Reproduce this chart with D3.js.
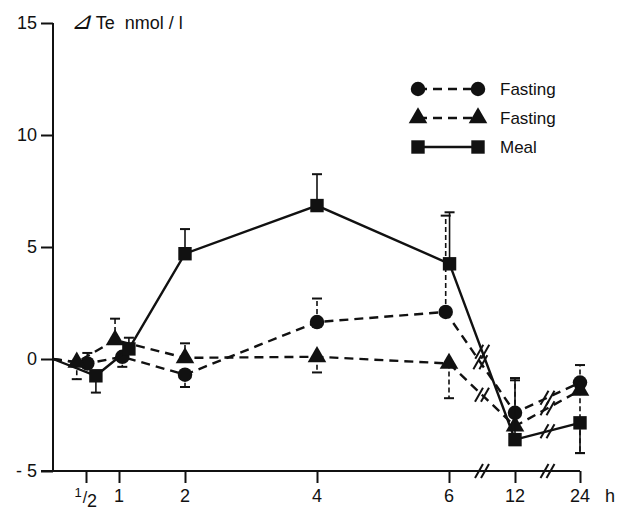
<!DOCTYPE html>
<html><head><meta charset="utf-8">
<script src="https://cdn.jsdelivr.net/npm/d3@7"></script>
<style>body{margin:0;background:#fff}svg{display:block}text{font-family:"Liberation Sans",Arial,sans-serif;fill:#111}</style>
</head><body>
<script>
// ---- data ----
const yTicks = [15, 10, 5, 0, -5];
const yTickLabels = ["15", "10", "5", "0", "- 5"];
const xTicks = [0.5, 1, 2, 4, 6, 12, 24];
const xTickLabels = ["1/2", "1", "2", "4", "6", "12", "24"];
const xBreaks = [[6, 12], [12, 24]];

const fastingATimes = [0, 0.52, 1.05, 2, 4, 5.95, 12, 24];
const fastingAValues = [0, -0.2, 0.1, -0.7, 1.65, 2.1, -2.4, -1.05];
const fastingAErr = [null, 0.27, -0.35, -1.25, 2.7, 6.4, -0.95, -0.27];

const fastingBTimes = [0, 0.36, 0.94, 2, 4, 6, 12, 24];
const fastingBValues = [0, -0.15, 0.85, 0.05, 0.1, -0.2, -3.0, -1.4];
const fastingBErr = [null, -0.9, 1.8, 0.7, -0.6, -1.75, null, -4.2];

const mealTimes = [0, 0.65, 1.15, 2, 4, 6.05, 12, 24];
const mealValues = [0, -0.75, 0.45, 4.7, 6.85, 4.25, -3.6, -2.85];
const mealErr = [null, -1.5, 0.95, 5.8, 8.25, 6.55, -0.85, -4.2];

const seriesNames = ["Fasting", "Fasting", "Meal"];
const yLabelSymbol = "⊿";
const yLabel = " Te  nmol / l";
const xUnit = "h";

// ---- build ----
const W = 625, H = 510;
const svg = d3.select("body").append("svg").attr("width", W).attr("height", H);
const x = d3.scaleLinear().domain([0, 6, 12, 24]).range([53, 449, 515, 580]);
const y = d3.scaleLinear().domain([-5, 15]).range([471, 23]);

const series = [
  {name: seriesNames[0], t: fastingATimes, v: fastingAValues, e: fastingAErr, sym: d3.symbolCircle, size: 165, dash: "9,6"},
  {name: seriesNames[1], t: fastingBTimes, v: fastingBValues, e: fastingBErr, sym: d3.symbolTriangle, size: 150, dash: "9,6"},
  {name: seriesNames[2], t: mealTimes, v: mealValues, e: mealErr, sym: d3.symbolSquare, size: 180, dash: null}
];

// axes
const yAxis = d3.axisLeft(y).tickValues(yTicks).tickSize(12).tickFormat((d, i) => yTickLabels[i]).tickPadding(4);
const gy = svg.append("g").attr("transform", "translate(53,0)").call(yAxis);
gy.select(".domain").attr("stroke", "#111").attr("stroke-width", 2).attr("d", `M0,${y(15)}V${y(-5)}`);
gy.selectAll(".tick line").attr("stroke", "#111").attr("stroke-width", 2);
gy.selectAll(".tick text").attr("font-size", 18).attr("fill", "#111").style("font-family", '"Liberation Sans",Arial,sans-serif');

const xAxis = d3.axisBottom(x).tickValues(xTicks).tickSize(12).tickFormat("");
const gx = svg.append("g").attr("transform", `translate(0,${y(-5)})`).call(xAxis);
gx.select(".domain").attr("stroke", "#111").attr("stroke-width", 2).attr("d", `M41,0H${x(24)}`);
gx.selectAll(".tick line").attr("stroke", "#111").attr("stroke-width", 2);

// x tick labels
xTicks.forEach((t, i) => {
  const lab = xTickLabels[i];
  const cx = x(t);
  if (lab === "1/2") {
    const [num, den] = lab.split("/");
    svg.append("text").attr("x", cx - 8).attr("y", 497).attr("text-anchor", "middle").attr("font-size", 13).text(num);
    svg.append("text").attr("x", cx - 1).attr("y", 503).attr("text-anchor", "middle").attr("font-size", 16).text("/");
    svg.append("text").attr("x", cx + 6).attr("y", 507).attr("text-anchor", "middle").attr("font-size", 18).text(den);
  } else {
    svg.append("text").attr("x", cx).attr("y", 502).attr("text-anchor", "middle").attr("font-size", 18).text(lab);
  }
});
svg.append("text").attr("x", 610).attr("y", 502).attr("text-anchor", "middle").attr("font-size", 18).text(xUnit);

// y label
const yl = svg.append("text").attr("x", 71).attr("y", 29).attr("font-size", 18).style("white-space", "pre");
yl.append("tspan").text(yLabelSymbol).attr("font-size", 24).attr("font-style", "italic");
yl.append("tspan").text(yLabel);

// break marks helper
function breakMark(g, cx, cy) {
  [-3, 3].forEach(d => {
    g.append("line").attr("x1", cx + d - 4).attr("y1", cy + 7).attr("x2", cx + d + 4).attr("y2", cy - 7)
      .attr("stroke", "#111").attr("stroke-width", 2);
  });
}
xBreaks.forEach(b => breakMark(svg, (x(b[0]) + x(b[1])) / 2, y(-5)));

// series
const line = d3.line().x(d => x(d.t)).y(d => y(d.v));
series.forEach(s => {
  const pts = s.t.map((t, i) => ({t, v: s.v[i], e: s.e[i]}));
  const g = svg.append("g");
  pts.forEach(p => {
    if (p.e === null) return;
    const px = x(p.t);
    g.append("line").attr("x1", px).attr("x2", px).attr("y1", y(p.v)).attr("y2", y(p.e))
      .attr("stroke", "#111").attr("stroke-width", 1.6).attr("stroke-dasharray", s.dash ? "5,3" : null);
    g.append("line").attr("x1", px - 5).attr("x2", px + 5).attr("y1", y(p.e)).attr("y2", y(p.e))
      .attr("stroke", "#111").attr("stroke-width", 2);
  });
  g.append("path").attr("d", line(pts)).attr("fill", "none").attr("stroke", "#111")
    .attr("stroke-width", 2.4).attr("stroke-dasharray", s.dash);
  for (let i = 1; i < pts.length; i++) {
    const a = pts[i - 1], b = pts[i];
    xBreaks.forEach(br => {
      if (Math.abs(a.t - br[0]) < 0.5 && Math.abs(b.t - br[1]) < 0.5) {
        breakMark(g, (x(a.t) + x(b.t)) / 2, (y(a.v) + y(b.v)) / 2);
      }
    });
  }
  g.selectAll("path.m").data(pts.slice(1)).join("path").attr("class", "m")
    .attr("transform", d => `translate(${x(d.t)},${y(d.v)})`)
    .attr("d", d3.symbol().type(s.sym).size(s.size)).attr("fill", "#111");
});

// legend
const legRows = [89, 118, 147];
series.forEach((s, i) => {
  const ly = legRows[i];
  svg.append("line").attr("x1", 418).attr("x2", 478).attr("y1", ly).attr("y2", ly)
    .attr("stroke", "#111").attr("stroke-width", 2.4).attr("stroke-dasharray", s.dash);
  [418, 478].forEach(lx => svg.append("path").attr("transform", `translate(${lx},${ly})`)
    .attr("d", d3.symbol().type(s.sym).size(s.size)).attr("fill", "#111"));
  svg.append("text").attr("x", 500).attr("y", ly + 6).attr("font-size", 17).text(s.name);
});
</script>
</body></html>
